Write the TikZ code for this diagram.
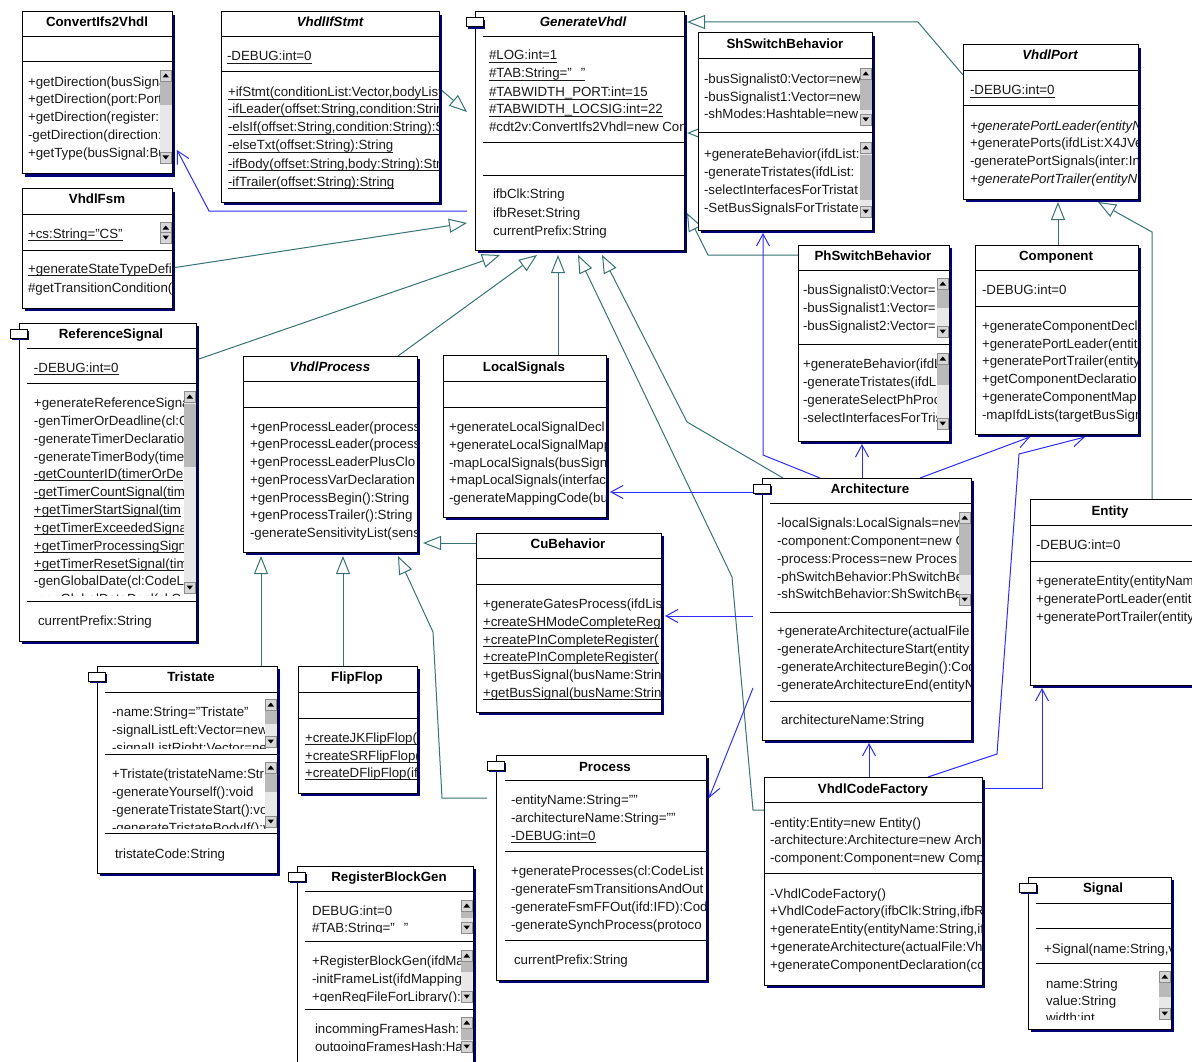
\documentclass[tikz,border=0pt]{standalone}
\usepackage{fontspec}
\setmainfont{Liberation Sans}
\usetikzlibrary{arrows.meta,calc}

\definecolor{inherit}{RGB}{55,115,115}
\definecolor{assoc}{RGB}{45,45,250}
\definecolor{shadowc}{RGB}{0,0,120}
\definecolor{textc}{RGB}{25,25,25}
\definecolor{trackc}{RGB}{232,232,232}
\definecolor{thumbc}{RGB}{185,185,185}
\definecolor{btnc}{RGB}{140,140,140}
\definecolor{btnfill}{RGB}{215,215,215}

\pgfdeclarelayer{paper}
\pgfdeclarelayer{wires}
\pgfsetlayers{paper,wires,main}

\newcounter{rowno}
\newcommand\rowfont{\fontsize{13.3}{16}\selectfont}

\tikzset{
  classframe/.style={draw=black, fill=white, line width=1pt, anchor=north west, inner sep=0pt, outer sep=0pt},
  rowtext/.style={anchor=base west, inner sep=0pt, outer sep=0pt, font=\rowfont, text=textc},
  titletext/.style={anchor=base, inner sep=0pt, outer sep=0pt, font=\rowfont\bfseries, text=black},
  generalization/.style={draw=inherit, line width=1pt, -{Triangle[length=18pt,width=14pt,fill=white]}},
  association/.style={draw=assoc, line width=1pt, -{Straight Barb[length=12pt,width=13pt]}},
  sepline/.style={draw=black, line width=1pt},
}

% class frame with its drop shadow: name, x, y, width, height
\newcommand\umlclass[5]{%
  \fill[shadowc] (#2+3,#3+3) rectangle ++(#4,#5);
  \node[classframe, minimum width=#4pt, minimum height=#5pt] (#1) at (#2,#3) {};}
% component tab on the left edge of a frame
\newcommand\umltab[2]{%
  \fill[shadowc] (#1-7,#2+8) rectangle ++(17,9);
  \draw[black, line width=1pt, fill=white] (#1-9,#2+6) rectangle ++(17,9);}
% compartment separator: x1, x2, y
\newcommand\umlsep[3]{\draw[sepline] (#1,#3) -- (#2,#3);}
% class name: node name, centre x, centre y, text
\newcommand\umltitle[4]{\node[titletext] (#1) at (#2,#3+5) {#4};}
% member row: x, centre y, text
\newcommand\umlrow[3]{%
  \stepcounter{rowno}\edef\rowname{row\arabic{rowno}}%
  \node[rowtext] (\rowname) at (#1,#2+5) {#3};}
% static member row (underlined)
\newcommand\umlrowu[3]{%
  \umlrow{#1}{#2}{#3}%
  \draw[textc, line width=0.9pt] ([yshift=-2.2pt]\rowname.base west) -- ([yshift=-2.2pt]\rowname.base east);}
% scrollbar: right x, top y, bottom y, thumb top, thumb bottom
\newcommand\vscroll[5]{%
  \fill[trackc] (#1-12,#2) rectangle (#1-0.5,#3);
  \fill[thumbc] (#1-12,#4) rectangle (#1-0.5,#5);
  \draw[btnc, line width=0.6pt, fill=btnfill] (#1-12,#2) rectangle (#1-0.5,#2+11);
  \fill[black] (#1-9.5,#2+7.5) -- (#1-3,#2+7.5) -- (#1-6.25,#2+3.5) -- cycle;
  \draw[btnc, line width=0.6pt, fill=btnfill] (#1-12,#3-11) rectangle (#1-0.5,#3);
  \fill[black] (#1-9.5,#3-7.5) -- (#1-3,#3-7.5) -- (#1-6.25,#3-3.5) -- cycle;}

\begin{document}
\begin{tikzpicture}[x=1pt,y=-1pt]
\useasboundingbox (0,0) rectangle (1192,1062);
\begin{pgfonlayer}{paper}
\fill[white] (0,0) rectangle (1192,1062);
\end{pgfonlayer}

% ---------------- ConvertIfs2Vhdl
\umlclass{cv}{22}{12}{150}{162}
\umltitle{cv-t}{97}{22}{ConvertIfs2Vhdl}
\umlsep{22}{172}{37}\umlsep{22}{172}{62}
\begin{scope}
\clip (22,62) rectangle (161,174);
\umlrow{28}{82}{+getDirection(busSigna}
\umlrow{28}{99}{+getDirection(port:Port}
\umlrow{28}{117}{+getDirection(register:}
\umlrow{28}{135}{-getDirection(direction:}
\umlrow{28}{153}{+getType(busSignal:Bu}
\end{scope}
\vscroll{172}{70}{163}{82}{105}

% ---------------- VhdlIfStmt
\umlclass{ifs}{221}{12}{218}{190}
\umltitle{ifs-t}{330}{22}{\itshape VhdlIfStmt}
\umlsep{221}{439}{37}\umlsep{221}{439}{72}
\begin{scope}
\clip (221,37) rectangle (439,202);
\umlrowu{227}{56}{-DEBUG:int=0}
\umlrowu{228}{92}{+ifStmt(conditionList:Vector,bodyList}
\umlrowu{228}{109}{-ifLeader(offset:String,condition:Strin}
\umlrowu{228}{127}{-elsIf(offset:String,condition:String):S}
\umlrowu{228}{145}{-elseTxt(offset:String):String}
\umlrowu{228}{163}{-ifBody(offset:String,body:String):Stri}
\umlrowu{228}{181}{-ifTrailer(offset:String):String}
\end{scope}

% ---------------- GenerateVhdl
\umlclass{gv}{475}{12}{209}{238}
\umltab{475}{12}
\umltitle{gv-t}{583}{22}{\itshape GenerateVhdl}
\umlsep{483}{684}{37}\umlsep{483}{684}{143}\umlsep{483}{684}{176}
\begin{scope}
\clip (475,37) rectangle (684,250);
\umlrowu{489}{55}{\#LOG:int=1}
\umlrowu{489}{73}{\#TAB:String="\hspace*{9pt}"}
\umlrowu{489}{92}{\#TABWIDTH\_PORT:int=15}
\umlrowu{489}{109}{\#TABWIDTH\_LOCSIG:int=22}
\umlrow{489}{127}{\#cdt2v:ConvertIfs2Vhdl=new Con}
\umlrow{493}{194}{ifbClk:String}
\umlrow{493}{212}{ifbReset:String}
\umlrow{493}{230}{currentPrefix:String}
\end{scope}

% ---------------- ShSwitchBehavior
\umlclass{sh}{698}{33}{174}{197}
\umltitle{sh-t}{785}{44}{ShSwitchBehavior}
\umlsep{698}{872}{59}\umlsep{698}{872}{133}
\begin{scope}
\clip (698,59) rectangle (860,133);
\umlrow{704}{79}{-busSignalist0:Vector=new}
\umlrow{704}{97}{-busSignalist1:Vector=new}
\umlrow{704}{114}{-shModes:Hashtable=new}
\end{scope}
\vscroll{872}{68}{125}{80}{110}
\begin{scope}
\clip (698,133) rectangle (860,230);
\umlrow{704}{154}{+generateBehavior(ifdList:}
\umlrow{704}{172}{-generateTristates(ifdList:}
\umlrow{704}{189}{-selectInterfacesForTristat}
\umlrow{704}{207}{-SetBusSignalsForTristate}
\end{scope}
\vscroll{872}{142}{217}{155}{200}

% ---------------- VhdlPort
\umlclass{vp}{963}{45}{175}{154}
\umltitle{vp-t}{1050}{55}{\itshape VhdlPort}
\umlsep{963}{1138}{71}\umlsep{963}{1138}{106}
\begin{scope}
\clip (963,71) rectangle (1138,199);
\umlrowu{970}{90}{-DEBUG:int=0}
\umlrow{970}{126}{\itshape +generatePortLeader(entityN}
\umlrow{970}{143}{+generatePorts(ifdList:X4JVe}
\umlrow{970}{161}{-generatePortSignals(inter:In}
\umlrow{970}{178}{\itshape +generatePortTrailer(entityN}
\end{scope}

% ---------------- Component
\umlclass{cmp}{975}{245}{163}{189}
\umltitle{cmp-t}{1056}{255}{Component}
\umlsep{975}{1138}{270}\umlsep{975}{1138}{306}
\begin{scope}
\clip (975,270) rectangle (1138,434);
\umlrow{982}{289}{-DEBUG:int=0}
\umlrow{982}{325}{+generateComponentDecl}
\umlrow{982}{343}{+generatePortLeader(entit}
\umlrow{982}{360}{+generatePortTrailer(entity}
\umlrow{982}{378}{+getComponentDeclaratio}
\umlrow{982}{396}{+generateComponentMap}
\umlrow{982}{414}{-mapIfdLists(targetBusSign}
\end{scope}

% ---------------- PhSwitchBehavior
\umlclass{ph}{798}{245}{151}{196}
\umltitle{ph-t}{873}{255}{PhSwitchBehavior}
\umlsep{798}{949}{270}\umlsep{798}{949}{344}
\begin{scope}
\clip (798,270) rectangle (938,344);
\umlrow{803}{289}{-busSignalist0:Vector=}
\umlrow{803}{307}{-busSignalist1:Vector=}
\umlrow{803}{325}{-busSignalist2:Vector=}
\end{scope}
\vscroll{949}{278}{337}{290}{308}
\begin{scope}
\clip (798,344) rectangle (938,441);
\umlrow{803}{363}{+generateBehavior(ifdL}
\umlrow{803}{381}{-generateTristates(ifdLi}
\umlrow{803}{399}{-generateSelectPhProc}
\umlrow{803}{417}{-selectInterfacesForTris}
\end{scope}
\vscroll{949}{353}{429}{364}{385}

% ---------------- Architecture
\umlclass{arch}{762}{478}{209}{262}
\umltab{762}{478}
\umltitle{arch-t}{870}{488}{Architecture}
\umlsep{770}{971}{503}\umlsep{770}{971}{612}\umlsep{770}{971}{701}
\begin{scope}
\clip (762,503) rectangle (960,612);
\umlrow{777}{522}{-localSignals:LocalSignals=new}
\umlrow{777}{540}{-component:Component=new C}
\umlrow{777}{558}{-process:Process=new Proces}
\umlrow{777}{576}{-phSwitchBehavior:PhSwitchBe}
\umlrow{777}{593}{-shSwitchBehavior:ShSwitchBe}
\end{scope}
\vscroll{971}{512}{605}{524}{575}
\begin{scope}
\clip (762,612) rectangle (971,740);
\umlrow{777}{630}{+generateArchitecture(actualFile}
\umlrow{777}{648}{-generateArchitectureStart(entity}
\umlrow{777}{666}{-generateArchitectureBegin():Cod}
\umlrow{777}{684}{-generateArchitectureEnd(entityN}
\umlrow{781}{719}{architectureName:String}
\end{scope}

% ---------------- Entity
\umlclass{ent}{1030}{499}{165}{186}
\umltitle{ent-t}{1110}{510}{Entity}
\umlsep{1030}{1195}{525}\umlsep{1030}{1195}{561}
\begin{scope}
\clip (1030,525) rectangle (1195,685);
\umlrow{1036}{544}{-DEBUG:int=0}
\umlrow{1036}{580}{+generateEntity(entityNam}
\umlrow{1036}{598}{+generatePortLeader(entit}
\umlrow{1036}{616}{+generatePortTrailer(entity}
\end{scope}

% ---------------- ReferenceSignal
\umlclass{rs}{19}{323}{177}{318}
\umltab{19}{323}
\umltitle{rs-t}{111}{333}{ReferenceSignal}
\umlsep{27}{196}{348}\umlsep{27}{196}{383}\umlsep{27}{196}{601}
\begin{scope}
\clip (19,348) rectangle (196,383);
\umlrowu{34}{367}{-DEBUG:int=0}
\end{scope}
\begin{scope}
\clip (19,383) rectangle (184,595);
\umlrow{34}{402}{+generateReferenceSigna}
\umlrow{34}{420}{-genTimerOrDeadline(cl:C}
\umlrow{34}{438}{-generateTimerDeclaratio}
\umlrow{34}{456}{-generateTimerBody(time}
\umlrowu{34}{473}{-getCounterID(timerOrDe}
\umlrowu{34}{491}{-getTimerCountSignal(tim}
\umlrowu{34}{509}{+getTimerStartSignal(tim}
\umlrowu{34}{527}{+getTimerExceededSigna}
\umlrowu{34}{545}{+getTimerProcessingSign}
\umlrowu{34}{563}{+getTimerResetSignal(tim}
\umlrow{34}{580}{-genGlobalDate(cl:CodeL}
\umlrow{34}{598}{-genGlobalDataDecl(cl:C}
\end{scope}
\vscroll{196}{391}{593}{404}{467}
\umlrow{38}{620}{currentPrefix:String}

% ---------------- VhdlFsm
\umlclass{fsm}{22}{189}{150}{119}
\umltitle{fsm-t}{97}{199}{VhdlFsm}
\umlsep{22}{172}{214}\umlsep{22}{172}{250}
\begin{scope}
\clip (22,214) rectangle (161,250);
\umlrowu{28}{233}{+cs:String="CS"}
\end{scope}
\vscroll{172}{222}{243}{233}{233}
\begin{scope}
\clip (22,250) rectangle (172,308);
\umlrowu{28}{268}{+generateStateTypeDefi}
\umlrow{28}{287}{\#getTransitionCondition(}
\end{scope}

% ---------------- VhdlProcess
\umlclass{vproc}{243}{356}{174}{196}
\umltitle{vproc-t}{330}{366}{\itshape VhdlProcess}
\umlsep{243}{417}{381}\umlsep{243}{417}{407}
\begin{scope}
\clip (243,407) rectangle (417,552);
\umlrow{250}{426}{+genProcessLeader(process}
\umlrow{250}{443}{+genProcessLeader(process}
\umlrow{250}{461}{+genProcessLeaderPlusClo}
\umlrow{250}{479}{+genProcessVarDeclaration}
\umlrow{250}{497}{+genProcessBegin():String}
\umlrow{250}{514}{+genProcessTrailer():String}
\umlrow{250}{532}{-generateSensitivityList(sens}
\end{scope}

% ---------------- LocalSignals
\umlclass{ls}{443}{355}{163}{162}
\umltitle{ls-t}{524}{366}{LocalSignals}
\umlsep{443}{606}{381}\umlsep{443}{606}{407}
\begin{scope}
\clip (443,407) rectangle (606,517);
\umlrow{449}{426}{+generateLocalSignalDecl}
\umlrow{449}{444}{+generateLocalSignalMapp}
\umlrow{449}{462}{-mapLocalSignals(busSign}
\umlrow{449}{479}{+mapLocalSignals(interfac}
\umlrow{449}{497}{-generateMappingCode(bu}
\end{scope}

% ---------------- CuBehavior
\umlclass{cu}{476}{533}{185}{179}
\umltitle{cu-t}{568}{543}{CuBehavior}
\umlsep{476}{661}{558}\umlsep{476}{661}{584}
\begin{scope}
\clip (476,584) rectangle (661,712);
\umlrow{483}{603}{+generateGatesProcess(ifdLis}
\umlrowu{483}{621}{+createSHModeCompleteReg}
\umlrowu{483}{639}{+createPInCompleteRegister(}
\umlrowu{483}{656}{+createPInCompleteRegister(}
\umlrow{483}{674}{+getBusSignal(busName:Strin}
\umlrowu{483}{692}{+getBusSignal(busName:Strin}
\end{scope}

% ---------------- Tristate
\umlclass{tri}{97}{666}{180}{207}
\umltab{97}{666}
\umltitle{tri-t}{191}{676}{Tristate}
\umlsep{105}{277}{692}\umlsep{105}{277}{754}\umlsep{105}{277}{833}
\begin{scope}
\clip (97,692) rectangle (266,748);
\umlrow{112}{711}{-name:String="Tristate"}
\umlrow{112}{729}{-signalListLeft:Vector=new}
\umlrow{112}{747}{-signalListRight:Vector=ne}
\end{scope}
\vscroll{277}{699}{747}{711}{724}
\begin{scope}
\clip (97,754) rectangle (266,828);
\umlrow{112}{773}{+Tristate(tristateName:Str}
\umlrow{112}{791}{-generateYourself():void}
\umlrow{112}{809}{-generateTristateStart():vo}
\umlrow{112}{827}{-generateTristateBodyIf():v}
\end{scope}
\vscroll{277}{762}{827}{774}{792}
\umlrow{115}{853}{tristateCode:String}

% ---------------- FlipFlop
\umlclass{ff}{298}{666}{119}{127}
\umltitle{ff-t}{357}{676}{FlipFlop}
\umlsep{298}{417}{692}\umlsep{298}{417}{718}
\begin{scope}
\clip (298,718) rectangle (417,793);
\umlrowu{305}{737}{+createJKFlipFlop(i}
\umlrowu{305}{755}{+createSRFlipFlop(i}
\umlrowu{305}{772}{+createDFlipFlop(if}
\end{scope}

% ---------------- RegisterBlockGen
\umlclass{rbg}{297}{866}{176}{210}
\umltab{297}{866}
\umltitle{rbg-t}{389}{876}{RegisterBlockGen}
\umlsep{305}{473}{891}\umlsep{305}{473}{941}\umlsep{305}{473}{1009}
\begin{scope}
\clip (297,891) rectangle (462,932);
\umlrow{312}{910}{DEBUG:int=0}
\umlrow{312}{927}{\#TAB:String="\hspace*{9pt}"}
\end{scope}
\vscroll{473}{900}{933}{911}{918}
\begin{scope}
\clip (297,941) rectangle (462,1001);
\umlrow{312}{960}{+RegisterBlockGen(ifdMa}
\umlrow{312}{978}{-initFrameList(ifdMapping}
\umlrow{312}{996}{+genRegFileForLibrary():}
\end{scope}
\vscroll{473}{950}{1002}{962}{972}
\begin{scope}
\clip (297,1009) rectangle (462,1050);
\umlrow{315}{1028}{incommingFramesHash:}
\umlrow{315}{1046}{outgoingFramesHash:Ha}
\end{scope}
\vscroll{473}{1017}{1052}{1029}{1040}

% ---------------- Process
\umlclass{proc}{496}{755}{210}{225}
\umltab{496}{755}
\umltitle{proc-t}{605}{766}{Process}
\umlsep{505}{706}{780}\umlsep{505}{706}{851}\umlsep{505}{706}{940}
\begin{scope}
\clip (496,780) rectangle (706,980);
\umlrow{511}{799}{-entityName:String=""}
\umlrow{511}{817}{-architectureName:String=""}
\umlrowu{511}{835}{-DEBUG:int=0}
\umlrow{511}{870}{+generateProcesses(cl:CodeList}
\umlrow{511}{888}{-generateFsmTransitionsAndOut}
\umlrow{511}{906}{-generateFsmFFOut(ifd:IFD):Cod}
\umlrow{511}{924}{-generateSynchProcess(protoco}
\umlrow{514}{959}{currentPrefix:String}
\end{scope}

% ---------------- VhdlCodeFactory
\umlclass{vcf}{764}{777}{218}{208}
\umltitle{vcf-t}{873}{788}{VhdlCodeFactory}
\umlsep{764}{982}{802}\umlsep{764}{982}{873}
\begin{scope}
\clip (764,802) rectangle (982,985);
\umlrow{770}{822}{-entity:Entity=new Entity()}
\umlrow{770}{839}{-architecture:Architecture=new Arch}
\umlrow{770}{857}{-component:Component=new Comp}
\umlrow{770}{893}{-VhdlCodeFactory()}
\umlrow{770}{910}{+VhdlCodeFactory(ifbClk:String,ifbR}
\umlrow{770}{928}{+generateEntity(entityName:String,if}
\umlrow{770}{946}{+generateArchitecture(actualFile:Vh}
\umlrow{770}{964}{+generateComponentDeclaration(co}
\end{scope}

% ---------------- Signal
\umlclass{sig}{1028}{877}{143}{152}
\umltab{1028}{877}
\umltitle{sig-t}{1103}{887}{Signal}
\umlsep{1036}{1171}{903}\umlsep{1036}{1171}{928}\umlsep{1036}{1171}{963}
\begin{scope}
\clip (1028,928) rectangle (1171,963);
\umlrow{1044}{948}{+Signal(name:String,v}
\end{scope}
\begin{scope}
\clip (1028,963) rectangle (1158,1019);
\umlrow{1046}{983}{name:String}
\umlrow{1046}{1000}{value:String}
\umlrow{1046}{1017}{width:int}
\end{scope}
\vscroll{1171}{971}{1019}{983}{997}

% ---------------- connectors (behind the classes)
\begin{pgfonlayer}{wires}
% generalizations
\draw[generalization] ($(ifs.north east)+(0,76)$) -- ($(gv.north west)+(-8,100)$);
\draw[generalization] ($(fsm.north east)+(0,79)$) -- ($(gv.north west)+(-8,211)$);
\draw[generalization] ($(rs.north east)+(0,37)$) -- ($(gv.south west)+(25,5)$);
\draw[generalization] ($(vproc.north west)+(155,0)$) -- ($(gv.south west)+(62,5)$);
\draw[generalization] ($(ls.north west)+(115,0)$) -- ($(gv.south west)+(83,5)$);
\draw[generalization] ($(vcf.north west)+(0,33)$) -- (753,810) -- (732,577) -- ($(gv.south west)+(103,5)$);
\draw[generalization] ($(arch.north west)+(21,0)$) -- (687,422) -- ($(gv.south west)+(127,5)$);
\draw[generalization] ($(sh.north west)+(0,100)$) -- ($(gv.north east)+(3,121)$);
\draw[generalization] ($(ph.north west)+(0,10)$) -- (708,255) -- ($(gv.north east)+(3,201)$);
\draw[generalization] ($(vp.north west)+(0,30)$) -- (918,22) -- ($(gv.north east)+(3,10)$);
\draw[generalization] ($(cmp.north west)+(83,0)$) -- ($(vp.south west)+(95,3)$);
\draw[generalization] ($(ent.north west)+(122,0)$) -- (1152,232) -- ($(vp.south west)+(135,3)$);
\draw[generalization] ($(tri.north west)+(164,0)$) -- ($(vproc.south west)+(18,4)$);
\draw[generalization] ($(ff.north west)+(45,0)$) -- ($(vproc.south west)+(100,4)$);
\draw[generalization] ($(proc.north west)+(-9,43)$) -- (442,798) -- (433,632) -- ($(vproc.south west)+(155,4)$);
\draw[generalization] ($(cu.north west)+(0,10)$) -- ($(vproc.south east)+(6,-9)$);
% associations
\draw[association] ($(gv.north west)+(-8,199)$) -- (209,211) -- ($(cv.south east)+(5,-24)$);
\draw[association] ($(arch.north west)+(-9,14)$) -- ($(ls.north east)+(4,137)$);
\draw[association] ($(arch.north west)+(-9,138)$) -- ($(cu.north east)+(4,83)$);
\draw[association] ($(arch.north west)+(-9,210)$) -- ($(proc.north east)+(3,43)$);
\draw[association] ($(arch.north west)+(58,0)$) -- (763,455) -- ($(sh.south west)+(65,3)$);
\draw[association] ($(arch.north west)+(100,0)$) -- ($(ph.south west)+(64,3)$);
\draw[association] ($(arch.north west)+(158,0)$) -- ($(cmp.south west)+(55,3)$);
\draw[association] ($(vcf.north west)+(164,0)$) -- (997,754) -- (1019,454) -- ($(cmp.south west)+(110,3)$);
\draw[association] ($(vcf.north west)+(105,0)$) -- ($(arch.south west)+(107,3)$);
\draw[association] ($(vcf.north east)+(0,11)$) -- (1042,788) -- ($(ent.south west)+(12,3)$);
\end{pgfonlayer}
\end{tikzpicture}
\end{document}
